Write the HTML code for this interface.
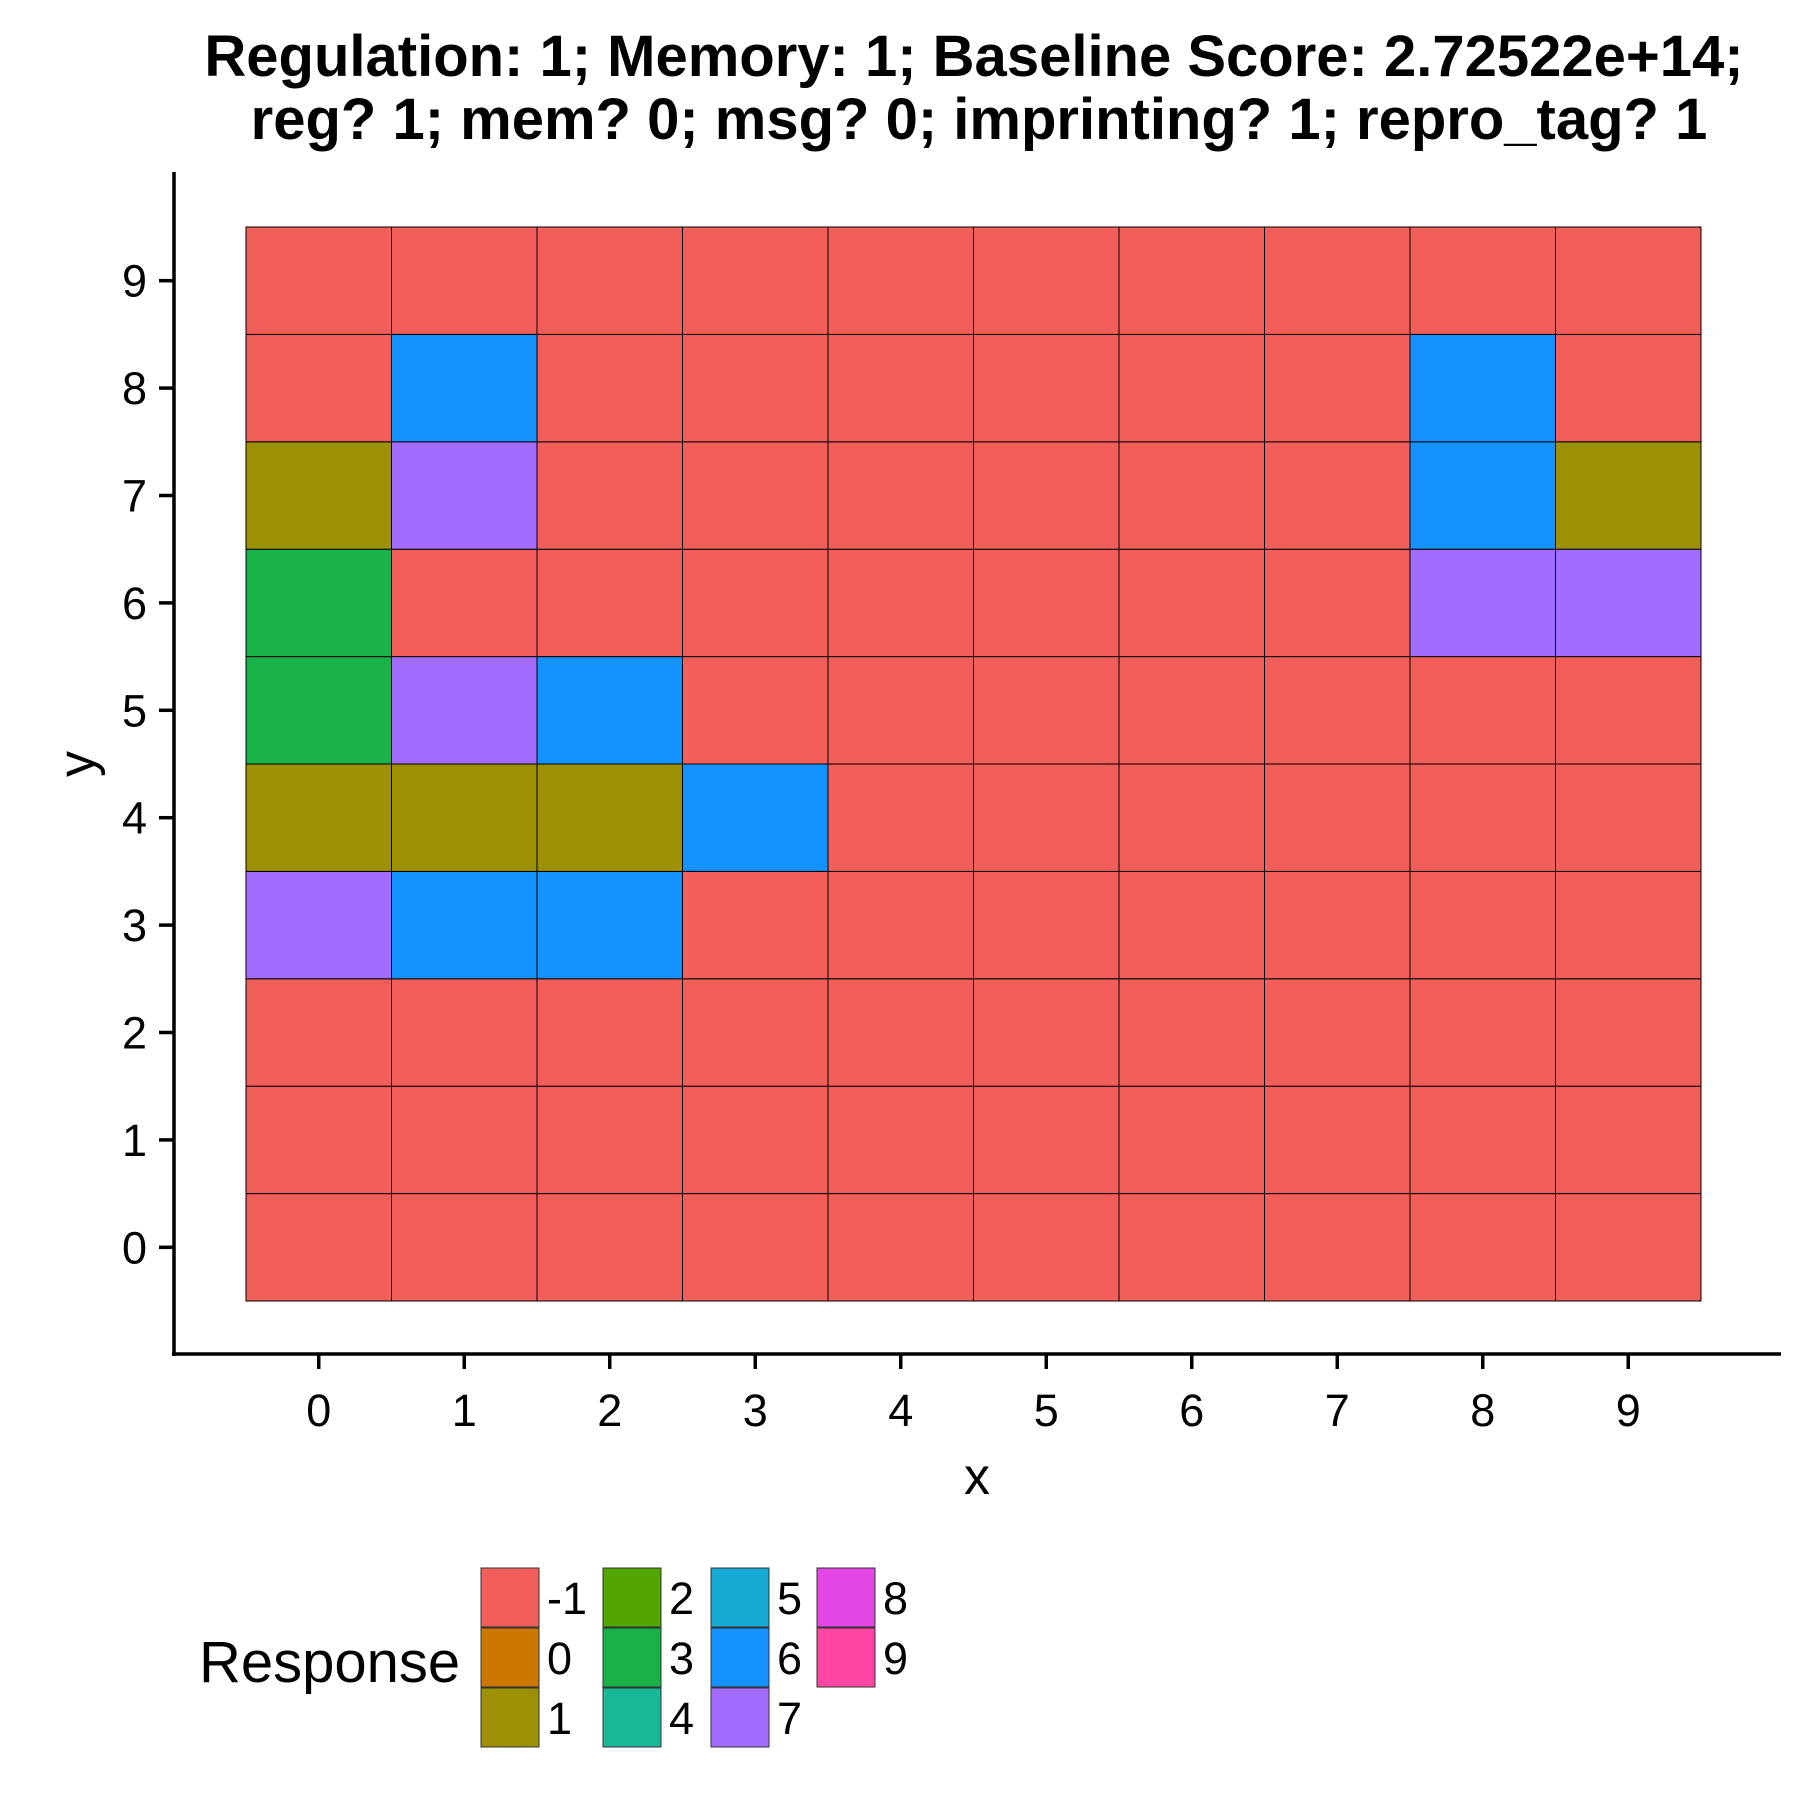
<!DOCTYPE html>
<html><head><meta charset="utf-8"><style>
html,body{margin:0;padding:0;background:#fff;}
svg{display:block;font-family:"Liberation Sans",Arial,sans-serif;}
</style></head><body>
<svg id="chart" width="1800" height="1800" viewBox="0 0 1800 1800">
<text x="974" y="76" font-size="58" font-weight="bold" text-anchor="middle">Regulation: 1; Memory: 1; Baseline Score: 2.72522e+14;</text>
<text x="979" y="139" font-size="58" font-weight="bold" text-anchor="middle">reg? 1; mem? 0; msg? 0; imprinting? 1; repro_tag? 1</text>
<g id="cells"></g>
<g id="axes"></g>
<text x="977" y="1494" font-size="52" text-anchor="middle">x</text>
<text transform="translate(94,764) rotate(-90)" font-size="52" text-anchor="middle">y</text>
<text x="199" y="1682" font-size="58">Response</text>
<g id="legend"></g>
</svg>
<script>
const levels = [-1,0,1,2,3,4,5,6,7,8,9];
const levelColors = ["#F25F5A","#CC7700","#9C9104","#53A600","#18B248","#18B796","#16AAD4","#1492FF","#A26CFF","#E346E4","#FF46A4"];
const xCats = [0,1,2,3,4,5,6,7,8,9];
const yCats = [0,1,2,3,4,5,6,7,8,9];
// rows indexed by y (0..9), values for x 0..9
const gridValues = [
 [-1,-1,-1,-1,-1,-1,-1,-1,-1,-1],
 [-1,-1,-1,-1,-1,-1,-1,-1,-1,-1],
 [-1,-1,-1,-1,-1,-1,-1,-1,-1,-1],
 [7,6,6,-1,-1,-1,-1,-1,-1,-1],
 [1,1,1,6,-1,-1,-1,-1,-1,-1],
 [3,7,6,-1,-1,-1,-1,-1,-1,-1],
 [3,-1,-1,-1,-1,-1,-1,-1,7,7],
 [1,7,-1,-1,-1,-1,-1,-1,6,1],
 [-1,6,-1,-1,-1,-1,-1,-1,6,-1],
 [-1,-1,-1,-1,-1,-1,-1,-1,-1,-1]
];
const NS="http://www.w3.org/2000/svg";
const cw=145.5, ch=107.4;
const xs=v=>246+cw*(v+0.5);
const ys=v=>1301-ch*(v+0.5);
const colorOf=v=>levelColors[levels.indexOf(v)];
function mk(tag,attrs,parent){const e=document.createElementNS(NS,tag);for(const k in attrs)e.setAttribute(k,attrs[k]);parent.appendChild(e);return e;}
const cells=document.getElementById('cells');
gridValues.forEach((row,yi)=>row.forEach((v,xi)=>{
 const r=mk('rect',{x:xs(xCats[xi])-cw/2,y:ys(yCats[yi])-ch/2,width:cw,height:ch,fill:colorOf(v),stroke:'#000','stroke-width':1},cells);
 
 
}));
const axes=document.getElementById('axes');
let l=mk('line',{x1:174,y1:172,x2:174,y2:1356,stroke:'#000','stroke-width':3.5},axes);


l=mk('line',{x1:172,y1:1354,x2:1781,y2:1354,stroke:'#000','stroke-width':3.5},axes);


xCats.forEach(c=>{
 const t=mk('line',{x1:xs(c),y1:1354,x2:xs(c),y2:1369,stroke:'#000','stroke-width':3.5},axes);
 
 
 const tx=mk('text',{x:xs(c),y:1426,'font-size':45,'text-anchor':'middle'},axes);
 tx.textContent=c;
 
 
});
yCats.forEach(c=>{
 const t=mk('line',{x1:159,y1:ys(c),x2:174,y2:ys(c),stroke:'#000','stroke-width':3.5},axes);
 
 
 const tx=mk('text',{x:147,y:ys(c)+16,'font-size':45,'text-anchor':'end'},axes);
 tx.textContent=c;
 
 
});
const legend=document.getElementById('legend');
const colX=[481,603,711,817], rowY=[1568,1628,1688];
levels.forEach((lv,i)=>{
 const col=Math.floor(i/3), row=i%3;
 const r=mk('rect',{x:colX[col],y:rowY[row],width:58,height:59,fill:levelColors[i],stroke:'#333','stroke-width':1},legend);
 
 
 const t=mk('text',{x:colX[col]+66,y:rowY[row]+46,'font-size':45},legend);
 t.textContent=lv;
 
 
});
</script>
</body></html>
